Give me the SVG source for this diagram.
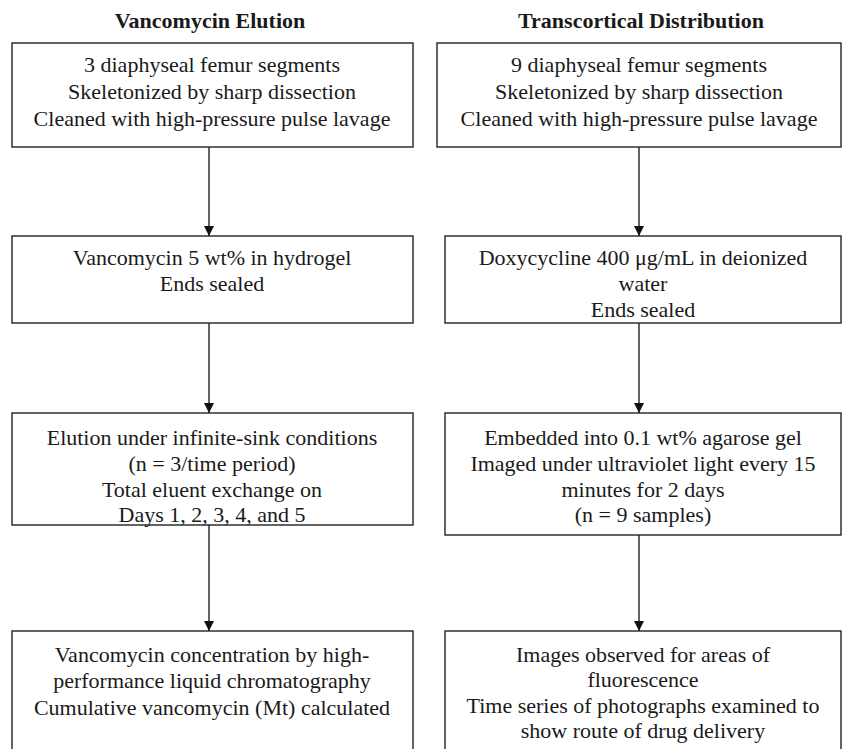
<svg xmlns="http://www.w3.org/2000/svg" width="843" height="749" viewBox="0 0 843 749">
<style>
.box{fill:#fff;stroke:#222;stroke-width:1.4}
.t{font-family:"Liberation Serif","Times New Roman",serif;font-size:22px;fill:#1a1a1a;text-anchor:middle}
.h{font-family:"Liberation Serif","Times New Roman",serif;font-size:22px;font-weight:bold;fill:#1a1a1a;text-anchor:middle}
.c{stroke:#222;stroke-width:1.4;fill:none}
</style>
<defs>
<marker id="ah" markerWidth="10" markerHeight="10" refX="10" refY="5" orient="auto" markerUnits="userSpaceOnUse">
<path d="M0,0 L10,5 L0,10 Z" fill="#111"/>
</marker>
</defs>
<rect width="843" height="749" fill="#fff"/>
<text class="h" x="210" y="28">Vancomycin Elution</text>
<text class="h" x="641" y="28">Transcortical Distribution</text>
<g id="connectors">
<line class="c" x1="209" y1="147" x2="209" y2="236" marker-end="url(#ah)"/>
<line class="c" x1="209" y1="323" x2="209" y2="413" marker-end="url(#ah)"/>
<line class="c" x1="209" y1="525" x2="209" y2="631" marker-end="url(#ah)"/>
<line class="c" x1="639" y1="147" x2="639" y2="236" marker-end="url(#ah)"/>
<line class="c" x1="639" y1="323" x2="639" y2="413" marker-end="url(#ah)"/>
<line class="c" x1="639" y1="535" x2="639" y2="631" marker-end="url(#ah)"/>
</g>
<g id="L1">
<rect class="box" x="12" y="43" width="401" height="104"/>
<text class="t" x="212" y="72">3 diaphyseal femur segments</text>
<text class="t" x="212" y="99">Skeletonized by sharp dissection</text>
<text class="t" x="212" y="126">Cleaned with high-pressure pulse lavage</text>
</g>
<g id="L2">
<rect class="box" x="12" y="236" width="401" height="87"/>
<text class="t" x="212" y="265">Vancomycin 5 wt% in hydrogel</text>
<text class="t" x="212" y="291">Ends sealed</text>
</g>
<g id="L3">
<rect class="box" x="12" y="413" width="401" height="112"/>
<text class="t" x="212" y="445">Elution under infinite-sink conditions</text>
<text class="t" x="212" y="471">(n = 3/time period)</text>
<text class="t" x="212" y="497">Total eluent exchange on</text>
<text class="t" x="212" y="522">Days 1, 2, 3, 4, and 5</text>
</g>
<g id="L4">
<rect class="box" x="12" y="631" width="401" height="130"/>
<text class="t" x="212" y="662">Vancomycin concentration by high-</text>
<text class="t" x="212" y="688">performance liquid chromatography</text>
<text class="t" x="212" y="715">Cumulative vancomycin (Mt) calculated</text>
</g>
<g id="R1">
<rect class="box" x="437" y="43" width="404" height="104"/>
<text class="t" x="639" y="72">9 diaphyseal femur segments</text>
<text class="t" x="639" y="99">Skeletonized by sharp dissection</text>
<text class="t" x="639" y="126">Cleaned with high-pressure pulse lavage</text>
</g>
<g id="R2">
<rect class="box" x="445" y="236" width="396" height="87"/>
<text class="t" x="643" y="265">Doxycycline 400 μg/mL in deionized</text>
<text class="t" x="643" y="291">water</text>
<text class="t" x="643" y="317">Ends sealed</text>
</g>
<g id="R3">
<rect class="box" x="445" y="413" width="396" height="122"/>
<text class="t" x="643" y="445">Embedded into 0.1 wt% agarose gel</text>
<text class="t" x="643" y="471">Imaged under ultraviolet light every 15</text>
<text class="t" x="643" y="497">minutes for 2 days</text>
<text class="t" x="643" y="522">(n = 9 samples)</text>
</g>
<g id="R4">
<rect class="box" x="445" y="631" width="396" height="130"/>
<text class="t" x="643" y="662">Images observed for areas of</text>
<text class="t" x="643" y="687">fluorescence</text>
<text class="t" x="643" y="713">Time series of photographs examined to</text>
<text class="t" x="643" y="738">show route of drug delivery</text>
</g>
</svg>
